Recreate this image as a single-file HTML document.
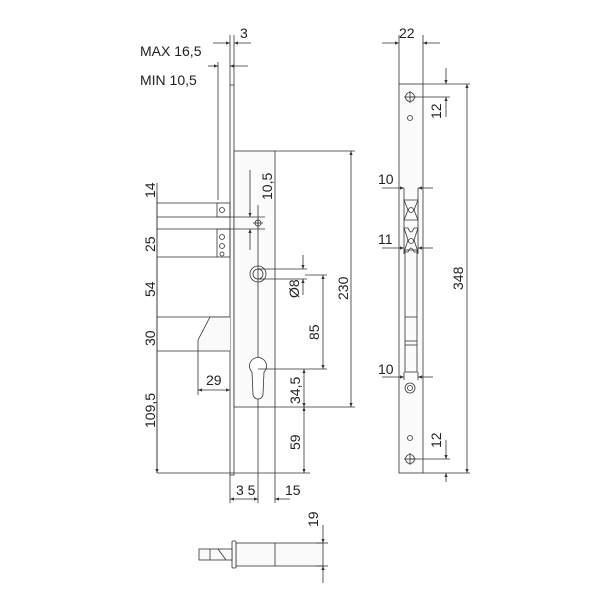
<!DOCTYPE html>
<html><head><style>body{margin:0;background:#fff}svg{display:block}text{font-family:"Liberation Sans",sans-serif;fill:#222}</style></head><body>
<svg width="600" height="600" viewBox="0 0 600 600" xmlns="http://www.w3.org/2000/svg">
<defs><marker id="a" markerWidth="6" markerHeight="6" refX="5" refY="3" orient="auto-start-reverse"><path d="M0,1 L5,3 L0,5z" fill="#333"/></marker></defs>
<g stroke="#333" stroke-width="0.8" fill="none">
<rect x="230" y="85" width="4" height="390" fill="#fafafa"/>
<rect x="234" y="151" width="41" height="256" fill="#fbfbfb"/>
<line x1="258" y1="205" x2="258" y2="503"/>
<line x1="275" y1="151" x2="355" y2="151"/>
<line x1="275" y1="407" x2="355" y2="407"/>
<line x1="351" y1="151" x2="351" y2="407" marker-start="url(#a)" marker-end="url(#a)"/>
<line x1="230" y1="35" x2="230" y2="85"/><line x1="234" y1="35" x2="234" y2="85"/>
<line x1="213" y1="43" x2="230" y2="43" marker-end="url(#a)"/><line x1="251" y1="43" x2="234" y2="43" marker-end="url(#a)"/>
<line x1="208" y1="66" x2="218" y2="66" marker-end="url(#a)"/><line x1="248" y1="66" x2="230" y2="66" marker-end="url(#a)"/>
<line x1="218" y1="62" x2="218" y2="200"/>
<rect x="217" y="203" width="13" height="14"/>
<rect x="217" y="229" width="13" height="28"/>
<circle cx="222" cy="210" r="2.5"/><circle cx="222" cy="237" r="2.5"/><circle cx="222" cy="246" r="2.5"/><circle cx="222" cy="254" r="2"/>
<line x1="157" y1="203" x2="217" y2="203"/><line x1="157" y1="217" x2="265" y2="217"/><line x1="157" y1="229" x2="265" y2="229"/><line x1="157" y1="257" x2="217" y2="257"/>
<line x1="157" y1="317" x2="230" y2="317"/><line x1="157" y1="351" x2="198" y2="351"/><line x1="157" y1="473" x2="310" y2="473"/>
<line x1="157" y1="183" x2="157" y2="473"/>
<path d="M157,193 L157,203 M157,217 L157,203 M157,217 L157,229 M157,257 L157,229 M157,257 L157,317 M157,351 L157,317 M157,351 L157,473" marker-end="url(#a)"/>
<path d="M230,317 L210,317 L198,340 L198,351 L230,351" fill="#fafafa"/>
<line x1="198" y1="351" x2="198" y2="395"/>
<line x1="198" y1="390" x2="230" y2="390" marker-start="url(#a)" marker-end="url(#a)"/>
<line x1="250" y1="170" x2="250" y2="217" marker-end="url(#a)"/><line x1="250" y1="250" x2="250" y2="229" marker-end="url(#a)"/>
<circle cx="258" cy="223" r="3"/><line x1="253" y1="223" x2="263" y2="223"/><line x1="258" y1="218" x2="258" y2="228"/>
<circle cx="258" cy="274" r="8"/><circle cx="258" cy="274" r="5"/>
<line x1="258" y1="269" x2="307" y2="269"/><line x1="258" y1="279" x2="307" y2="279"/>
<line x1="303" y1="255" x2="303" y2="269" marker-end="url(#a)"/><line x1="303" y1="295" x2="303" y2="279" marker-end="url(#a)"/>
<line x1="323" y1="275" x2="323" y2="369" marker-start="url(#a)" marker-end="url(#a)"/>
<line x1="305" y1="275" x2="327" y2="275"/>
<path d="M252,372 A8.5,8.5 0 1 1 264,372 L263,394 A5,5 0 0 1 253,394 Z" fill="#fff"/>
<line x1="258" y1="369" x2="327" y2="369"/>
<line x1="304" y1="369" x2="304" y2="407" marker-start="url(#a)" marker-end="url(#a)"/>
<line x1="304" y1="407" x2="304" y2="473" marker-start="url(#a)" marker-end="url(#a)"/>
<line x1="230" y1="475" x2="230" y2="503"/><line x1="275" y1="407" x2="275" y2="503"/>
<line x1="230" y1="499" x2="258" y2="499" marker-start="url(#a)" marker-end="url(#a)"/>
<line x1="290" y1="499" x2="275" y2="499" marker-end="url(#a)"/>
<rect x="236" y="543" width="87" height="23" fill="#fafafa"/>
<line x1="275" y1="543" x2="275" y2="566"/>
<rect x="232" y="541" width="4" height="27" rx="1" fill="#fafafa"/>
<rect x="199" y="549" width="33" height="11" fill="#fafafa"/>
<line x1="210" y1="549" x2="210" y2="560"/><path d="M218,549 L226,560"/>
<line x1="323" y1="525" x2="323" y2="543" marker-end="url(#a)"/><line x1="323" y1="583" x2="323" y2="566" marker-end="url(#a)"/>
<line x1="316" y1="543" x2="328" y2="543"/><line x1="316" y1="566" x2="328" y2="566"/>
<rect x="399" y="84" width="24" height="389" fill="#fbfbfb"/>
<line x1="399" y1="35" x2="399" y2="84"/><line x1="423" y1="35" x2="423" y2="84"/>
<line x1="382" y1="43" x2="399" y2="43" marker-end="url(#a)"/><line x1="440" y1="43" x2="423" y2="43" marker-end="url(#a)"/>
<line x1="423" y1="84" x2="470" y2="84"/><line x1="423" y1="473" x2="470" y2="473"/>
<line x1="467" y1="84" x2="467" y2="473" marker-start="url(#a)" marker-end="url(#a)"/>
<line x1="410" y1="97" x2="450" y2="97"/><line x1="410" y1="459" x2="450" y2="459"/>
<line x1="446" y1="68" x2="446" y2="84" marker-end="url(#a)"/><line x1="446" y1="117" x2="446" y2="97" marker-end="url(#a)"/>
<line x1="446" y1="440" x2="446" y2="459" marker-end="url(#a)"/><line x1="446" y1="482" x2="446" y2="473" marker-end="url(#a)"/>
<circle cx="410" cy="97" r="4.5"/><line x1="404" y1="97" x2="416" y2="97"/><line x1="410" y1="91" x2="410" y2="103"/>
<circle cx="410" cy="118" r="2.5"/>
<circle cx="410" cy="459" r="4.5"/><line x1="404" y1="459" x2="416" y2="459"/><line x1="410" y1="453" x2="410" y2="465"/>
<circle cx="410" cy="438" r="2.5"/>
<path d="M404,200 L418,200 L414,210 L418,220 L404,220 L408,210 Z"/><circle cx="411" cy="210" r="2.5"/>
<path d="M404,228 L408,228 Q411,236 414,228 L418,228 L414,240 L418,252 L414,252 Q411,244 408,252 L404,252 L408,240 Z"/><circle cx="411" cy="241" r="2.5"/>
<line x1="404" y1="188" x2="404" y2="254"/><line x1="418" y1="188" x2="418" y2="254"/>
<line x1="382" y1="188" x2="404" y2="188" marker-end="url(#a)"/><line x1="433" y1="188" x2="418" y2="188" marker-end="url(#a)"/>
<line x1="382" y1="248" x2="404" y2="248" marker-end="url(#a)"/><line x1="433" y1="248" x2="418" y2="248" marker-end="url(#a)"/>
<rect x="405" y="250" width="12" height="122"/>
<line x1="405" y1="317" x2="417" y2="317"/><line x1="405" y1="341" x2="417" y2="341"/><line x1="405" y1="345" x2="417" y2="345"/>
<line x1="404" y1="372" x2="404" y2="380"/><line x1="418" y1="372" x2="418" y2="380"/>
<line x1="382" y1="377" x2="404" y2="377" marker-end="url(#a)"/><line x1="433" y1="377" x2="418" y2="377" marker-end="url(#a)"/>
<circle cx="410" cy="388" r="5"/><circle cx="410" cy="388" r="2.5"/>
</g>
<g font-size="14">
<text x="240" y="38">3</text>
<text x="140" y="56">MAX 16,5</text>
<text x="140" y="85">MIN 10,5</text>
<text x="206" y="385">29</text>
<text x="236" y="495">3 5</text>
<text x="285" y="495">15</text>
<text x="399" y="38">22</text>
<text x="378" y="184">10</text>
<text x="378" y="244">11</text>
<text x="378" y="374">10</text>
<g transform="rotate(-90)">
<text x="-198" y="155">14</text>
<text x="-252" y="155">25</text>
<text x="-297" y="155">54</text>
<text x="-346" y="155">30</text>
<text x="-428" y="155">109,5</text>
<text x="-200" y="272">10,5</text>
<text x="-298" y="299">Ø8</text>
<text x="-340" y="319">85</text>
<text x="-300" y="348">230</text>
<text x="-404" y="300">34,5</text>
<text x="-450" y="300">59</text>
<text x="-527" y="318">19</text>
<text x="-119" y="441">12</text>
<text x="-448" y="441">12</text>
<text x="-290" y="463">348</text>
</g>
</g>
</svg>
</body></html>
